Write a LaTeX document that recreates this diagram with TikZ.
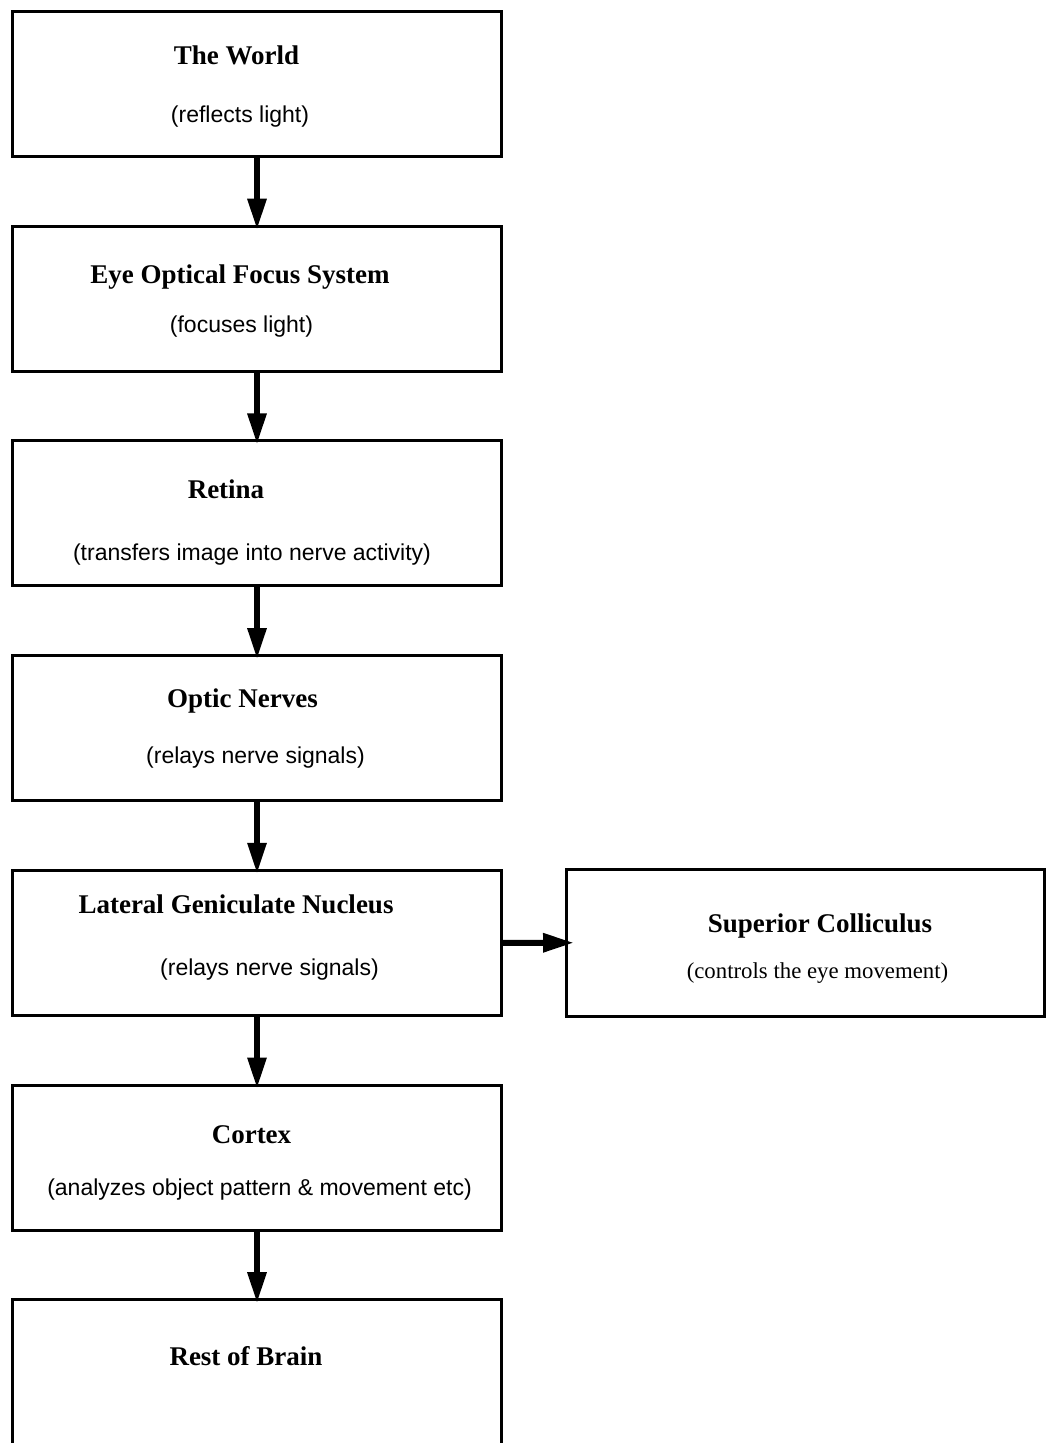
\documentclass[tikz,border=0pt]{standalone}
\usepackage{fontspec}
\setmainfont{Liberation Serif}
\newfontfamily\helv{Liberation Sans}
\usetikzlibrary{arrows.meta}

\tikzset{
  stage/.style={draw, line width=3bp, minimum width=488bp, minimum height=145bp, inner sep=0pt},
  sidebox/.style={draw, line width=3bp, minimum width=478bp, minimum height=147.5bp, inner sep=0pt},
  ttl/.style={anchor=base, inner sep=0pt, font=\bfseries\fontsize{27bp}{30bp}\selectfont},
  sub/.style={anchor=base, inner sep=0pt, font=\helv\fontsize{23bp}{26bp}\selectfont},
  subserif/.style={anchor=base, inner sep=0pt, font=\fontsize{22.8bp}{26bp}\selectfont},
  conn/.style={line width=6bp, -{Triangle[length=31bp,width=18bp]}}
}

\begin{document}
\begin{tikzpicture}[x=1bp, y=-1bp]
\useasboundingbox (0,0) rectangle (1047,1443);
\clip (0,0) rectangle (1047,1443);

% processing stages along the visual pathway
\node[stage] (world)  at (257,84)    {};
\node[stage] (optics) at (257,298.7) {};
\node[stage] (retina) at (257,513.4) {};
\node[stage] (nerves) at (257,728.1) {};
\node[stage] (lgn)    at (257,942.8) {};
\node[stage] (cortex) at (257,1157.5) {};
\node[stage, minimum height=160bp] (brain) at (257,1379.7) {};
\node[sidebox] (sc) at (805.5,942.75) {};

% titles and descriptions
\node[ttl] (worldT)  at (236.5,65)  {The World};
\node[sub] (worldS)  at (240,123)   {(reflects light)};
\node[ttl] (opticsT) at (240,283)   {Eye Optical Focus System};
\node[sub] (opticsS) at (241.5,332) {(focuses light)};
\node[ttl] (retinaT) at (226,498)   {Retina};
\node[sub] (retinaS) at (252,560)   {(transfers image into nerve activity)};
\node[ttl] (nervesT) at (242.5,707) {Optic Nerves};
\node[sub] (nervesS) at (255.5,763) {(relays nerve signals)};
\node[ttl] (lgnT)    at (236,913)   {Lateral Geniculate Nucleus};
\node[sub] (lgnS)    at (269.5,975) {(relays nerve signals)};
\node[ttl] (cortexT) at (251.5,1143) {Cortex};
\node[sub] (cortexS) at (259.5,1195) {(analyzes object pattern \& movement etc)};
\node[ttl] (brainT)  at (246,1365)  {Rest of Brain};
\node[ttl] (scT)     at (820,932)   {Superior Colliculus};
\node[subserif] (scS) at (817.5,978) {(controls the eye movement)};

% connectors
\draw[conn] (world.south)  -- ([yshift=-5bp]optics.north);
\draw[conn] (optics.south) -- ([yshift=-5bp]retina.north);
\draw[conn] (retina.south) -- ([yshift=-5bp]nerves.north);
\draw[conn] (nerves.south) -- ([yshift=-5bp]lgn.north);
\draw[conn] (lgn.south)    -- ([yshift=-5bp]cortex.north);
\draw[conn] (cortex.south) -- ([yshift=-5bp]brain.north);
\draw[conn] (lgn.east)     -- ([xshift=9bp]sc.west);
\end{tikzpicture}
\end{document}
